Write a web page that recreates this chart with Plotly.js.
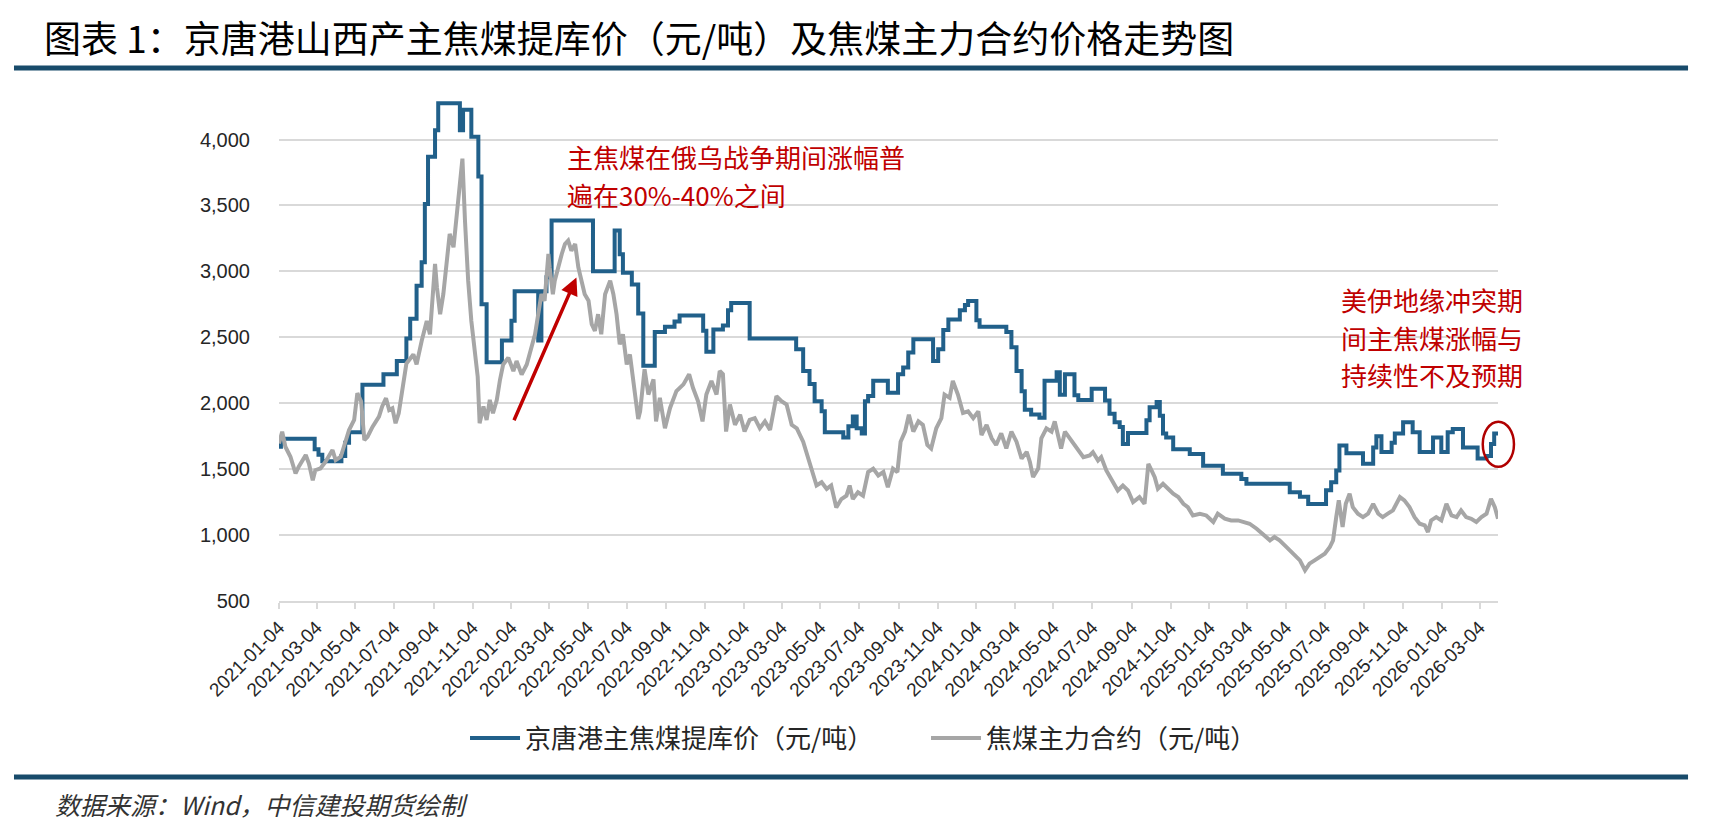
<!DOCTYPE html>
<html>
<head>
<meta charset="utf-8">
<script src="https://cdn.plot.ly/plotly-3.0.1.min.js"></script>
<style>
html,body{margin:0;padding:0;background:#fff;}
#chart{width:1732px;height:826px;}
</style>
</head>
<body>
<div id="chart"></div>
<script>
// 京唐港主焦煤提库价（元/吨）— step changes
const blueDates = ['2021-01-04','2021-01-07','2021-03-01','2021-03-07','2021-03-13','2021-04-12','2021-04-18','2021-04-24','2021-05-15','2021-06-17','2021-07-08','2021-07-23','2021-07-29','2021-08-08','2021-08-16','2021-08-21','2021-08-26','2021-09-06','2021-09-11','2021-10-15','2021-10-20','2021-11-02','2021-11-13','2021-11-18','2021-11-26','2021-12-20','2022-01-04','2022-01-09','2022-02-15','2022-02-20','2022-02-28','2022-03-08','2022-05-12','2022-06-15','2022-06-23','2022-06-28','2022-07-12','2022-07-22','2022-07-30','2022-08-17','2022-09-02','2022-09-17','2022-09-25','2022-11-01','2022-11-06','2022-11-17','2022-12-02','2022-12-10','2022-12-15','2023-01-13','2023-03-27','2023-04-07','2023-04-17','2023-04-25','2023-05-06','2023-05-11','2023-06-09','2023-06-17','2023-06-24','2023-06-30','2023-07-08','2023-07-13','2023-07-18','2023-07-26','2023-08-18','2023-09-03','2023-09-11','2023-09-19','2023-09-27','2023-10-28','2023-11-05','2023-11-13','2023-11-21','2023-12-09','2023-12-17','2023-12-22','2024-01-04','2024-01-09','2024-02-20','2024-02-28','2024-03-07','2024-03-15','2024-03-20','2024-03-30','2024-04-12','2024-04-20','2024-05-09','2024-05-14','2024-05-22','2024-06-06','2024-06-12','2024-07-03','2024-07-24','2024-07-31','2024-08-08','2024-08-16','2024-08-21','2024-08-29','2024-09-27','2024-10-02','2024-10-13','2024-10-18','2024-10-23','2024-10-28','2024-11-08','2024-12-04','2024-12-25','2025-01-25','2025-02-23','2025-03-03','2025-05-10','2025-05-26','2025-06-08','2025-07-06','2025-07-14','2025-07-22','2025-07-27','2025-08-07','2025-09-02','2025-09-18','2025-09-23','2025-10-01','2025-10-17','2025-10-22','2025-11-04','2025-11-19','2025-11-30','2025-12-21','2026-01-03','2026-01-13','2026-01-21','2026-02-06','2026-03-01','2026-03-15','2026-03-22','2026-03-27','2026-04-02'];
const blueValues = [1670,1730,1650,1610,1560,1600,1700,1780,2140,2220,2320,2490,2640,2890,3070,3510,3870,4070,4275,4070,4225,4020,3720,2750,2310,2475,2625,2850,2475,2850,2955,3385,3000,3310,3130,2990,2900,2680,2285,2540,2580,2620,2665,2550,2390,2560,2590,2705,2760,2490,2410,2245,2145,2015,1940,1780,1740,1825,1900,1810,1770,2015,2055,2170,2080,2220,2270,2385,2485,2320,2410,2555,2635,2705,2745,2775,2630,2580,2540,2425,2245,2090,1950,1915,1890,2170,2235,2065,2220,2060,2025,2110,2020,1920,1855,1820,1690,1775,1870,1970,2010,1905,1770,1740,1650,1615,1525,1465,1425,1390,1325,1290,1235,1340,1400,1490,1680,1620,1540,1665,1750,1630,1700,1770,1855,1780,1630,1740,1630,1780,1805,1665,1580,1600,1690,1770,1770];

// 焦煤主力合约（元/吨）
const grayDates = ['2021-01-04','2021-01-09','2021-01-14','2021-01-22','2021-01-30','2021-02-04','2021-02-15','2021-02-20','2021-02-26','2021-03-02','2021-03-10','2021-03-18','2021-03-29','2021-04-03','2021-04-11','2021-04-19','2021-04-24','2021-05-02','2021-05-07','2021-05-13','2021-05-18','2021-05-23','2021-05-31','2021-06-10','2021-06-15','2021-06-21','2021-06-26','2021-07-01','2021-07-06','2021-07-11','2021-07-17','2021-07-23','2021-08-03','2021-08-08','2021-08-16','2021-08-24','2021-08-29','2021-09-06','2021-09-09','2021-09-14','2021-09-19','2021-09-24','2021-09-29','2021-10-05','2021-10-10','2021-10-15','2021-10-19','2021-10-23','2021-10-28','2021-11-02','2021-11-08','2021-11-12','2021-11-15','2021-11-21','2021-11-26','2021-12-01','2021-12-06','2021-12-12','2021-12-17','2021-12-22','2021-12-30','2022-01-07','2022-01-12','2022-01-20','2022-01-28','2022-02-05','2022-02-10','2022-02-15','2022-02-20','2022-02-25','2022-03-03','2022-03-05','2022-03-10','2022-03-13','2022-03-18','2022-03-24','2022-03-29','2022-04-03','2022-04-08','2022-04-14','2022-04-19','2022-04-24','2022-04-29','2022-05-05','2022-05-10','2022-05-15','2022-05-20','2022-05-25','2022-05-31','2022-06-08','2022-06-13','2022-06-18','2022-06-23','2022-06-28','2022-07-04','2022-07-09','2022-07-14','2022-07-19','2022-07-22','2022-07-25','2022-08-01','2022-08-07','2022-08-15','2022-08-19','2022-08-25','2022-09-02','2022-09-10','2022-09-20','2022-10-01','2022-10-10','2022-10-16','2022-10-24','2022-10-31','2022-11-06','2022-11-14','2022-11-22','2022-11-27','2022-12-02','2022-12-07','2022-12-13','2022-12-21','2022-12-29','2023-01-05','2023-01-13','2023-01-21','2023-01-29','2023-02-06','2023-02-14','2023-02-24','2023-03-04','2023-03-12','2023-03-20','2023-03-28','2023-04-07','2023-04-15','2023-04-20','2023-04-28','2023-05-06','2023-05-14','2023-05-21','2023-05-29','2023-06-06','2023-06-14','2023-06-19','2023-06-24','2023-07-02','2023-07-10','2023-07-18','2023-07-26','2023-08-03','2023-08-11','2023-08-18','2023-08-26','2023-09-02','2023-09-07','2023-09-14','2023-09-20','2023-09-27','2023-10-05','2023-10-12','2023-10-19','2023-10-25','2023-11-02','2023-11-10','2023-11-15','2023-11-23','2023-11-28','2023-12-06','2023-12-14','2023-12-22','2023-12-30','2024-01-07','2024-01-12','2024-01-20','2024-01-28','2024-02-04','2024-02-12','2024-02-20','2024-02-28','2024-03-07','2024-03-15','2024-03-23','2024-03-28','2024-04-02','2024-04-10','2024-04-15','2024-04-23','2024-05-01','2024-05-06','2024-05-11','2024-05-16','2024-05-22','2024-05-30','2024-06-12','2024-06-20','2024-06-30','2024-07-05','2024-07-13','2024-07-18','2024-07-26','2024-08-06','2024-08-13','2024-08-21','2024-08-29','2024-09-06','2024-09-16','2024-09-24','2024-09-30','2024-10-05','2024-10-10','2024-10-15','2024-10-23','2024-10-31','2024-11-08','2024-11-16','2024-11-24','2024-12-01','2024-12-09','2024-12-20','2024-12-30','2025-01-10','2025-01-17','2025-01-28','2025-02-07','2025-02-18','2025-02-26','2025-03-08','2025-03-19','2025-03-29','2025-04-09','2025-04-16','2025-04-24','2025-05-05','2025-05-15','2025-05-26','2025-06-03','2025-06-10','2025-06-18','2025-06-26','2025-07-04','2025-07-12','2025-07-17','2025-07-22','2025-07-26','2025-08-01','2025-08-06','2025-08-12','2025-08-17','2025-08-25','2025-09-02','2025-09-10','2025-09-18','2025-09-26','2025-10-03','2025-10-11','2025-10-19','2025-10-30','2025-11-06','2025-11-14','2025-11-22','2025-11-30','2025-12-08','2025-12-13','2025-12-18','2025-12-26','2026-01-03','2026-01-11','2026-01-19','2026-01-27','2026-02-03','2026-02-11','2026-02-19','2026-02-27','2026-03-07','2026-03-15','2026-03-22','2026-03-28','2026-04-02'];
const grayValues = [1695,1784,1670,1594,1467,1518,1607,1543,1416,1492,1505,1556,1645,1568,1594,1721,1797,1873,2076,2013,1721,1746,1822,1898,1975,2038,1949,1962,1848,1924,2101,2300,2370,2294,2472,2624,2523,3056,2878,2675,2827,3030,3284,3183,3437,3614,3855,3386,2929,2624,2370,2200,1848,1975,1873,2025,1924,2025,2178,2294,2345,2244,2320,2218,2294,2421,2523,2675,2827,2777,3132,3030,2827,2929,3030,3132,3208,3234,3157,3208,3030,2929,2827,2777,2599,2548,2675,2523,2827,2929,2827,2675,2447,2523,2294,2370,2167,2015,1880,1938,2258,2066,2181,1862,2041,1810,1964,2092,2143,2220,2117,2015,1862,2066,2169,2066,2245,2220,1785,1990,1836,1913,1785,1874,1887,1810,1862,1798,2053,2015,1990,1836,1810,1708,1580,1478,1376,1401,1350,1376,1209,1273,1299,1376,1273,1325,1299,1478,1504,1452,1478,1363,1504,1478,1708,1785,1913,1785,1862,1836,1683,1657,1810,1887,2066,2041,2169,2066,1926,1938,1887,1938,1759,1836,1734,1683,1772,1657,1785,1708,1580,1631,1555,1440,1504,1734,1810,1785,1862,1759,1657,1785,1734,1654,1591,1604,1629,1566,1591,1490,1389,1338,1376,1338,1250,1288,1237,1540,1490,1439,1351,1389,1351,1313,1288,1237,1212,1149,1162,1149,1099,1162,1124,1111,1111,1099,1086,1048,1010,960,985,960,909,859,808,732,783,808,834,859,909,960,1136,1263,1061,1237,1313,1212,1162,1136,1162,1237,1162,1136,1162,1187,1288,1263,1212,1136,1086,1073,1023,1111,1136,1111,1237,1149,1136,1187,1136,1124,1099,1136,1162,1275,1212,1124];

const xTickLabels = ['2021-01-04','2021-03-04','2021-05-04','2021-07-04','2021-09-04','2021-11-04','2022-01-04','2022-03-04','2022-05-04','2022-07-04','2022-09-04','2022-11-04','2023-01-04','2023-03-04','2023-05-04','2023-07-04','2023-09-04','2023-11-04','2024-01-04','2024-03-04','2024-05-04','2024-07-04','2024-09-04','2024-11-04','2025-01-04','2025-03-04','2025-05-04','2025-07-04','2025-09-04','2025-11-04','2026-01-04','2026-03-04'];
const yTickValues = [500,1000,1500,2000,2500,3000,3500,4000];
const yTickLabels = ['500','1,000','1,500','2,000','2,500','3,000','3,500','4,000'];

const seriesNames = ['京唐港主焦煤提库价（元/吨）','焦煤主力合约（元/吨）'];
const titleText = '图表 1：京唐港山西产主焦煤提库价（元/吨）及焦煤主力合约价格走势图';
const note1Lines = ['主焦煤在俄乌战争期间涨幅普', '遍在30%-40%之间'];
const note1Y = [3870, 3585];
const note2Lines = ['美伊地缘冲突期', '间主焦煤涨幅与', '持续性不及预期'];
const note2Y = [2785, 2500, 2215];
const sourceText = '数据来源：Wind，中信建投期货绘制';

const CJK = '"Noto Sans CJK SC", "Noto Sans", sans-serif';
const NUM = '"Liberation Sans", Arial, sans-serif';
const RED = '#c00000';
const RULE = '#184b6b';

const traces = [
  {x: blueDates, y: blueValues, name: seriesNames[0], type: 'scatter', mode: 'lines',
   line: {color: '#21608a', width: 4, shape: 'hv'}},
  {x: grayDates, y: grayValues, name: seriesNames[1], type: 'scatter', mode: 'lines',
   line: {color: '#a6a6a6', width: 4}}
];

const annotations = [
  {x: '2022-04-16', y: 2954, ax: '2022-01-07', ay: 1860, xref: 'x', yref: 'y', axref: 'x', ayref: 'y',
   showarrow: true, arrowhead: 2, arrowsize: 1, arrowwidth: 3.5, arrowcolor: RED, text: ''},
  {x: -0.1854, y: -0.402, xref: 'paper', yref: 'paper', xanchor: 'left', yanchor: 'middle',
   showarrow: false, text: sourceText, font: {family: CJK, size: 25, color: '#333', style: 'italic'}}
];
note1Lines.forEach((t, i) => annotations.push({
  x: '2022-03-29', y: note1Y[i], xref: 'x', yref: 'y', xanchor: 'left', yanchor: 'middle',
  showarrow: false, text: t, font: {family: CJK, size: 26, color: RED}}));
note2Lines.forEach((t, i) => annotations.push({
  x: '2025-12-20', y: note2Y[i], xref: 'x', yref: 'y', xanchor: 'center', yanchor: 'middle',
  showarrow: false, text: t, font: {family: CJK, size: 26, color: RED}}));

const layout = {
  width: 1732, height: 826,
  margin: {l: 279, r: 234, t: 96, b: 225},
  paper_bgcolor: '#fff', plot_bgcolor: '#fff',
  showlegend: true,
  title: {text: titleText, xref: 'container', yref: 'container', x: 0.0254, xanchor: 'left',
          y: 0.951, yanchor: 'middle', font: {family: CJK, size: 37, color: '#000'}},
  xaxis: {type: 'date', range: ['2021-01-04', '2026-04-02'],
          tickvals: xTickLabels, ticktext: xTickLabels, tickangle: -45,
          tickfont: {family: NUM, size: 19, color: '#262626'},
          showgrid: false, zeroline: false, showline: true, linecolor: '#d9d9d9', linewidth: 2,
          ticks: 'outside', ticklen: 6, tickwidth: 2, tickcolor: '#d9d9d9'},
  yaxis: {range: [500, 4330], tickvals: yTickValues, ticktext: yTickLabels,
          tickfont: {family: NUM, size: 20, color: '#262626'},
          showgrid: true, gridcolor: '#d9d9d9', gridwidth: 2, zeroline: false, showline: false,
          ticks: '', ticklabelstandoff: 28},
  legend: {orientation: 'h', x: 0.1526, xanchor: 'left', y: -0.2713, yanchor: 'middle',
           font: {family: CJK, size: 26, color: '#262626'}, itemwidth: 50,
           entrywidth: 396, entrywidthmode: 'pixels', bgcolor: 'rgba(0,0,0,0)'},
  shapes: [
    {type: 'line', xref: 'paper', yref: 'paper', x0: -0.2174, x1: 1.1559, y0: 1.0554, y1: 1.0554,
     line: {color: RULE, width: 5}},
    {type: 'line', xref: 'paper', yref: 'paper', x0: -0.2174, x1: 1.1559, y0: -0.3485, y1: -0.3485,
     line: {color: RULE, width: 5}},
    {type: 'circle', xref: 'paper', yref: 'y', x0: 0.9875, x1: 1.0131, y0: 1518, y1: 1860,
     line: {color: '#b00000', width: 2.5}}
  ],
  annotations: annotations
};

Plotly.newPlot('chart', traces, layout, {displayModeBar: false, staticPlot: true});
</script>
</body>
</html>
